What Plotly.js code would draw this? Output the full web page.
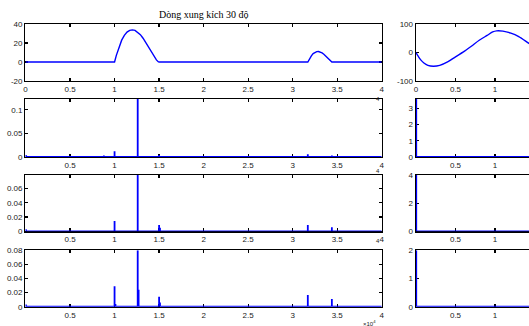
<!DOCTYPE html>
<html>
<head>
<meta charset="utf-8">
<script src="https://cdn.plot.ly/plotly-3.0.1.min.js"></script>
<style>html,body{margin:0;padding:0;background:#fff}#chart{width:529px;height:326px}</style>
</head>
<body>
<div id="chart"></div>
<script>
// ---- Data ----
const titleText = 'Dòng xung kích 30 độ';

// Left row 1: current waveform (x in units of 1e4 samples)
const waveX = [0, 1.00, 1.02, 1.05, 1.08, 1.11, 1.14, 1.17, 1.20, 1.23, 1.26, 1.29, 1.32, 1.35, 1.38, 1.41, 1.44, 1.47, 1.49, 1.50,
               3.17, 3.19, 3.21, 3.23, 3.25, 3.27, 3.29, 3.31, 3.33, 3.35, 3.37, 3.39, 3.41, 3.43, 3.44, 4];
const waveY = [0, 0, 7, 16, 23, 28, 31.5, 33.3, 33.8, 33.3, 31.5, 28.8, 25, 20.5, 15.5, 10.5, 6, 2.2, 0.3, 0,
               0, 3.5, 6.5, 8.8, 10.2, 10.9, 11, 10.6, 9.6, 8.2, 6.4, 4.5, 2.6, 0.9, 0, 0];

// Right row 1: sine-like waveform
const sineX = [0, 0.03, 0.06, 0.10, 0.15, 0.22, 0.30, 0.40, 0.50, 0.60, 0.70, 0.80, 0.90, 0.97, 1.02, 1.10, 1.20, 1.30, 1.43, 1.50];
const sineY = [0, -14, -26, -37, -45, -48, -45, -33, -15, 2, 22, 43, 60, 72, 76, 75, 68, 56, 32, 20];

// Left rows 2-4: spectra (frequency positions and amplitudes)
const specFreq2 = [0.005, 0.80, 0.85, 0.88, 1.00, 1.26, 1.50, 3.17, 3.44];
const specAmp2  = [0.004, 0.001, 0.002, 0.003, 0.012, 0.123, 0.004, 0.006, 0.003];
const specFreq3 = [0.005, 1.00, 1.26, 1.50, 1.51, 3.17, 3.44];
const specAmp3  = [0.003, 0.0145, 0.079, 0.009, 0.005, 0.009, 0.0056];
const specFreq4 = [0.005, 1.00, 1.01, 1.26, 1.27, 1.50, 1.51, 3.17, 3.44];
const specAmp4  = [0.003, 0.029, 0.004, 0.08, 0.024, 0.014, 0.006, 0.0166, 0.011];

// Right rows 2-4: spectra
const rFreq2 = [0.003, 0.20];
const rAmp2  = [3.58, 0.05];
const rFreq3 = [0.003, 0.20];
const rAmp3  = [4, 0.06];
const rFreq4 = [0.003, 0.20];
const rAmp4  = [2, 0.03];

// Tick labels
const leftX1Ticks = [0, 0.5, 1, 1.5, 2, 2.5, 3, 3.5, 4];
const leftXTicks = [0.5, 1, 1.5, 2, 2.5, 3, 3.5, 4];
const rightX1Ticks = [0, 0.5, 1];
const rightXTicks = [0.5, 1];
const yTicksL1 = [-20, 0, 20, 40];
const yTicksL2 = [0, 0.05, 0.1];
const yTicksL3 = [0, 0.02, 0.04, 0.06];
const yTicksL4 = [0, 0.02, 0.04, 0.06, 0.08];
const yTicksR1 = [-100, 0, 100];
const yTicksR2 = [0, 1, 2, 3];
const yTicksR3 = [0, 2, 4];
const yTicksR4 = [0, 1, 2];

// ---- Build stem lines from spectra ----
function stems(freqs, amps, xmin, xmax) {
  const xs = [xmin], ys = [0];
  freqs.forEach((f, i) => { xs.push(f, f, f); ys.push(0, amps[i], 0); });
  xs.push(xmax); ys.push(0);
  return {x: xs, y: ys};
}

const blue = '#0000ff';
const lineW = 1.4;
function tr(x, y, n, w, shape) {
  return {x: x, y: y, type: 'scatter', mode: 'lines',
          line: {color: blue, width: w || lineW, shape: shape || 'linear', smoothing: 0.8},
          xaxis: 'x' + (n === 1 ? '' : n), yaxis: 'y' + (n === 1 ? '' : n), hoverinfo: 'skip', showlegend: false};
}

const s2 = stems(specFreq2, specAmp2, 0, 4);
const s3 = stems(specFreq3, specAmp3, 0, 4);
const s4 = stems(specFreq4, specAmp4, 0, 4);
const q2 = stems(rFreq2, rAmp2, 0, 1.5);
const q3 = stems(rFreq3, rAmp3, 0, 1.5);
const q4 = stems(rFreq4, rAmp4, 0, 1.5);

const data = [
  tr(waveX, waveY, 1),
  tr(s2.x, s2.y, 2, 1.8),
  tr(s3.x, s3.y, 3, 1.8),
  tr(s4.x, s4.y, 4, 1.8),
  tr(sineX, sineY, 5, lineW, 'spline'),
  tr(q2.x, q2.y, 6, 1.8),
  tr(q3.x, q3.y, 7, 1.8),
  tr(q4.x, q4.y, 8, 1.8)
];

// ---- Layout ----
const fmt = v => String(v);
const tickFont = {family: 'Liberation Sans, Arial, sans-serif', size: 8, color: '#222'};
function ax(extra) {
  return Object.assign({
    showline: true, linecolor: '#000', linewidth: 1.4, ticks: 'inside', ticklen: 3, tickcolor: '#000',
    tickwidth: 1.2, showgrid: false, zeroline: false, tickfont: tickFont, fixedrange: true,
    tickmode: 'array', layer: 'below traces'
  }, extra);
}
const L = [0.0482, 0.7216], R = [0.7864, 1];
const rows = [[0.7515, 0.9264], [0.5184, 0.6963], [0.2905, 0.4632], [0.0592, 0.2322]];

const layout = {
  width: 529, height: 326,
  margin: {l: 0, r: 0, t: 0, b: 0},
  paper_bgcolor: '#fff', plot_bgcolor: '#fff',
  showlegend: false,
  title: {text: titleText, font: {family: 'Liberation Serif, Times New Roman, serif', size: 10, color: '#000'},
          xref: 'paper', x: 0.385, xanchor: 'center', yref: 'container', y: 0.957, yanchor: 'middle'},
  xaxis:  ax({domain: L, anchor: 'y',  range: [0, 4], tickvals: leftX1Ticks, ticktext: leftX1Ticks.map(fmt), mirror: 'ticks'}),
  yaxis:  ax({domain: rows[0], anchor: 'x', range: [-20, 40], tickvals: yTicksL1, ticktext: yTicksL1.map(fmt), mirror: 'ticks'}),
  xaxis2: ax({domain: L, anchor: 'y2', range: [0, 4], tickvals: leftXTicks, ticktext: leftXTicks.map(fmt), mirror: 'ticks'}),
  yaxis2: ax({domain: rows[1], anchor: 'x2', range: [0, 0.123], tickvals: yTicksL2, ticktext: yTicksL2.map(fmt), mirror: 'ticks'}),
  xaxis3: ax({domain: L, anchor: 'y3', range: [0, 4], tickvals: leftXTicks, ticktext: leftXTicks.map(fmt), mirror: 'ticks'}),
  yaxis3: ax({domain: rows[2], anchor: 'x3', range: [0, 0.079], tickvals: yTicksL3, ticktext: yTicksL3.map(fmt), mirror: 'ticks'}),
  xaxis4: ax({domain: L, anchor: 'y4', range: [0, 4], tickvals: leftXTicks, ticktext: leftXTicks.map(fmt), mirror: 'ticks'}),
  yaxis4: ax({domain: rows[3], anchor: 'x4', range: [0, 0.08], tickvals: yTicksL4, ticktext: yTicksL4.map(fmt), mirror: 'ticks'}),
  xaxis5: ax({domain: R, anchor: 'y5', range: [0, 1.43], tickvals: rightX1Ticks, ticktext: rightX1Ticks.map(fmt), mirror: 'ticks'}),
  yaxis5: ax({domain: rows[0], anchor: 'x5', range: [-100, 100], tickvals: yTicksR1, ticktext: yTicksR1.map(fmt), mirror: false}),
  xaxis6: ax({domain: R, anchor: 'y6', range: [0, 1.43], tickvals: rightXTicks, ticktext: rightXTicks.map(fmt), mirror: 'ticks'}),
  yaxis6: ax({domain: rows[1], anchor: 'x6', range: [0, 3.58], tickvals: yTicksR2, ticktext: yTicksR2.map(fmt), mirror: false}),
  xaxis7: ax({domain: R, anchor: 'y7', range: [0, 1.43], tickvals: rightXTicks, ticktext: rightXTicks.map(fmt), mirror: 'ticks'}),
  yaxis7: ax({domain: rows[2], anchor: 'x7', range: [0, 4], tickvals: yTicksR3, ticktext: yTicksR3.map(fmt), mirror: false}),
  xaxis8: ax({domain: R, anchor: 'y8', range: [0, 1.43], tickvals: rightXTicks, ticktext: rightXTicks.map(fmt), mirror: 'ticks'}),
  yaxis8: ax({domain: rows[3], anchor: 'x8', range: [0, 2], tickvals: yTicksR4, ticktext: yTicksR4.map(fmt), mirror: false}),
  annotations: [
    {text: '4', xref: 'paper', yref: 'paper', x: 381.5/529, y: 1 - 94/326, showarrow: false, font: {family: 'Liberation Sans, Arial', size: 6, color: '#222'}},
    {text: '4', xref: 'paper', yref: 'paper', x: 381.5/529, y: 1 - 171/326, showarrow: false, font: {family: 'Liberation Sans, Arial', size: 6, color: '#222'}},
    {text: '4', xref: 'paper', yref: 'paper', x: 381.5/529, y: 1 - 246/326, showarrow: false, font: {family: 'Liberation Sans, Arial', size: 6, color: '#222'}},
    {text: '×10<sup>4</sup>', xref: 'paper', yref: 'paper', x: 378/529, y: 1 - 323/326, xanchor: 'right', yanchor: 'middle', showarrow: false, font: {family: 'Liberation Sans, Arial', size: 6, color: '#222'}}
  ]
};

Plotly.newPlot('chart', data, layout, {staticPlot: true, displayModeBar: false});
</script>
</body>
</html>
